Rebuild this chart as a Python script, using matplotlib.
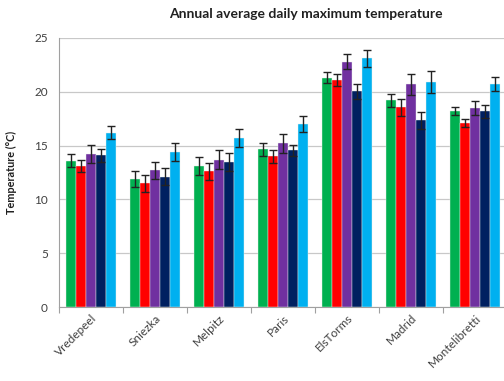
import matplotlib
matplotlib.use("Agg")
import matplotlib.pyplot as plt
import numpy as np

plt.rcParams["font.family"] = ["Lato", "DejaVu Sans"]

sites = ["Vredepeel", "Sniezka", "Melpitz", "Paris", "ElsTorms", "Madrid", "Montelibretti"]
colors = ["#00B050", "#FF0000", "#7030A0", "#002060", "#00B0F0"]

# five series per site (green, red, purple, navy, cyan)
green = [13.6, 11.9, 13.1, 14.65, 21.3, 19.2, 18.2]
red = [13.1, 11.5, 12.6, 14.0, 21.1, 18.55, 17.1]
purple = [14.2, 12.7, 13.7, 15.2, 22.8, 20.7, 18.5]
navy = [14.1, 12.1, 13.5, 14.55, 20.05, 17.35, 18.2]
cyan = [16.2, 14.4, 15.7, 17.0, 23.1, 20.9, 20.75]

green_err = [0.6, 0.75, 0.8, 0.6, 0.5, 0.6, 0.4]
red_err = [0.55, 0.8, 0.8, 0.6, 0.6, 0.8, 0.35]
purple_err = [0.85, 0.8, 0.85, 0.85, 0.7, 1.0, 0.65]
navy_err = [0.6, 0.8, 0.85, 0.55, 0.7, 0.8, 0.6]
cyan_err = [0.6, 0.85, 0.85, 0.75, 0.8, 1.05, 0.65]

series = [green, red, purple, navy, cyan]
errors = [green_err, red_err, purple_err, navy_err, cyan_err]

fig = plt.figure(figsize=(5.04, 3.81), dpi=100)
ax = fig.add_axes([59 / 504, 1 - 307 / 381, 448 / 504, 269 / 381])

x = np.arange(len(sites))
w = 0.155
for i, (vals, err, c) in enumerate(zip(series, errors, colors)):
    ax.bar(x + (i - 2) * w, vals, w, color=c, edgecolor="#e8f0e8", linewidth=0.3,
           yerr=err, capsize=2.6, error_kw=dict(ecolor="#222222", elinewidth=1.0, capthick=1.0),
           zorder=3)

ax.set_xlim(-0.5, len(sites) - 0.5)
ax.set_ylim(0, 25)
ax.set_yticks([0, 5, 10, 15, 20, 25])
ax.yaxis.grid(True, color="#c8c8c8", linewidth=0.9, zorder=0)
ax.tick_params(axis="y", length=0, labelsize=8.5, labelcolor="#404040", pad=8)

ax.set_xticks(np.arange(len(sites) + 1) - 0.5, minor=False)
ax.set_xticklabels([])
ax.tick_params(axis="x", which="major", length=4, color="#a0a0a0", direction="out")
ax.set_xticks(x, minor=True)
ax.set_xticklabels(sites, minor=True, rotation=45, ha="right", rotation_mode="anchor",
                   fontsize=8.5, color="#404040")
ax.tick_params(axis="x", which="minor", length=0, pad=4)

for s in ["top", "right"]:
    ax.spines[s].set_visible(False)
ax.spines["left"].set_color("#a0a0a0")
ax.spines["bottom"].set_color("#a0a0a0")

ax.set_ylabel("Temperature (°C)", fontsize=7.8, fontweight="bold", color="#202020", labelpad=12)
fig.text(306 / 504, 1 - 14 / 381, "Annual average daily maximum temperature",
         ha="center", va="center", fontsize=10, fontweight="bold", color="#202020")

fig.savefig("out.png", dpi=100)
